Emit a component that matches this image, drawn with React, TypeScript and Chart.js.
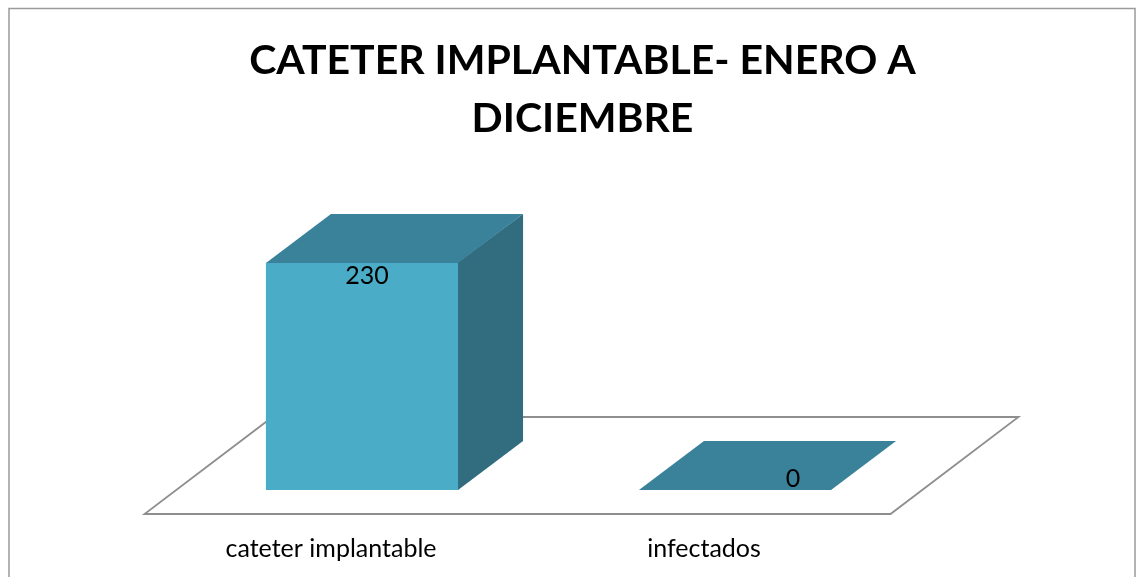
import React, { useEffect, useRef } from "react";
import { Chart, registerables } from "chart.js";

Chart.register(...registerables);

const categories = ["cateter implantable", "infectados"];
const values = [230, 0];
const titleLines = ["CATETER IMPLANTABLE- ENERO A", "DICIEMBRE"];
const FONT = "Lato, Carlito, sans-serif";

const frontColor = "#4AACC7";
const topColor = "#39829A";
const sideColor = "#316D7E";
const floorColor = "#8E8E8E";

const barDepth = { dx: 65, dy: -49 };
const floorShift = { dx: -31, dy: 24 };
const floorDepth = { dx: 128, dy: -97 };
const labelShift = [{ x: 5, y: 13 }, { x: 58, y: -11 }];

function poly(ctx: CanvasRenderingContext2D, pts: number[][], fill: string) {
  ctx.beginPath();
  pts.forEach((p, i) => (i ? ctx.lineTo(p[0], p[1]) : ctx.moveTo(p[0], p[1])));
  ctx.closePath();
  ctx.fillStyle = fill;
  ctx.fill();
}

const frame3d = {
  id: "frame3d",
  beforeDatasetsDraw(chart: any) {
    const { ctx, chartArea: a } = chart;
    ctx.save();
    ctx.strokeStyle = "#9a9a9a";
    ctx.lineWidth = 1.5;
    ctx.strokeRect(9, 8.5, 1126, 620);
    const l = a.left + floorShift.dx;
    const r = a.right + floorShift.dx;
    const b = a.bottom + floorShift.dy;
    ctx.beginPath();
    ctx.moveTo(l, b);
    ctx.lineTo(r, b);
    ctx.lineTo(r + floorDepth.dx, b + floorDepth.dy);
    ctx.lineTo(l + floorDepth.dx, b + floorDepth.dy);
    ctx.closePath();
    ctx.strokeStyle = floorColor;
    ctx.lineWidth = 1.8;
    ctx.stroke();
    ctx.restore();
  },
  afterDatasetsDraw(chart: any) {
    const { ctx } = chart;
    const meta = chart.getDatasetMeta(0);
    const yBase = chart.scales.y.getPixelForValue(0);
    const { dx, dy } = barDepth;
    ctx.save();
    meta.data.forEach((bar: any) => {
      const hw = bar.width / 2;
      const l = bar.x - hw;
      const r = bar.x + hw;
      const t = bar.y;
      if (t < yBase) {
        poly(ctx, [[r - 1, t], [r + dx, t + dy], [r + dx, yBase + dy], [r, yBase], [r - 1, yBase]], sideColor);
        ctx.fillStyle = frontColor;
        ctx.fillRect(l, t, r - l, yBase - t);
      }
      poly(ctx, [[l, t], [r, t], [r + dx, t + dy], [l + dx, t + dy]], topColor);
    });
    ctx.fillStyle = "#000";
    ctx.font = `25px ${FONT}`;
    ctx.textAlign = "center";
    ctx.textBaseline = "middle";
    meta.data.forEach((bar: any, i: number) => {
      ctx.fillText(String(values[i]), bar.x + labelShift[i].x, bar.y + labelShift[i].y);
    });
    ctx.restore();
  },
};

export default function App() {
  const ref = useRef<HTMLCanvasElement>(null);
  useEffect(() => {
    const chart = new Chart(ref.current!, {
      type: "bar",
      data: {
        labels: categories,
        datasets: [
          {
            data: values,
            backgroundColor: frontColor,
            borderWidth: 0,
            barPercentage: 0.515,
            categoryPercentage: 1,
          },
        ],
      },
      options: {
        responsive: false,
        animation: false,
        layout: { padding: { left: 22 } },
        plugins: {
          legend: { display: false },
          tooltip: { enabled: false },
          title: {
            display: true,
            text: titleLines,
            color: "#000",
            font: { family: FONT, size: 41, weight: "bold", lineHeight: 1.415 },
            padding: { top: 32, bottom: 95.3 },
          },
        },
        scales: {
          x: {
            grid: { display: false },
            border: { display: false },
            ticks: {
              color: "#000",
              font: { family: FONT, size: 25 },
              labelOffset: -31,
              padding: 36,
              maxRotation: 0,
              autoSkip: false,
            },
            afterFit: (s: any) => {
              s.height = 87;
            },
          },
          y: {
            min: 0,
            max: 250,
            grid: { display: false },
            border: { display: false },
            ticks: { display: false },
            afterFit: (s: any) => {
              s.width = 153.5;
            },
          },
          y2: {
            type: "linear",
            position: "right",
            grid: { display: false },
            border: { display: false },
            ticks: { display: false },
            afterFit: (s: any) => {
              s.width = 221.5;
            },
          },
        },
      } as any,
      plugins: [frame3d],
    });
    return () => chart.destroy();
  }, []);
  return (
    <canvas
      ref={ref}
      width={1143}
      height={577}
      style={{ position: "absolute", left: 0, top: 0, background: "#fff" }}
    />
  );
}
